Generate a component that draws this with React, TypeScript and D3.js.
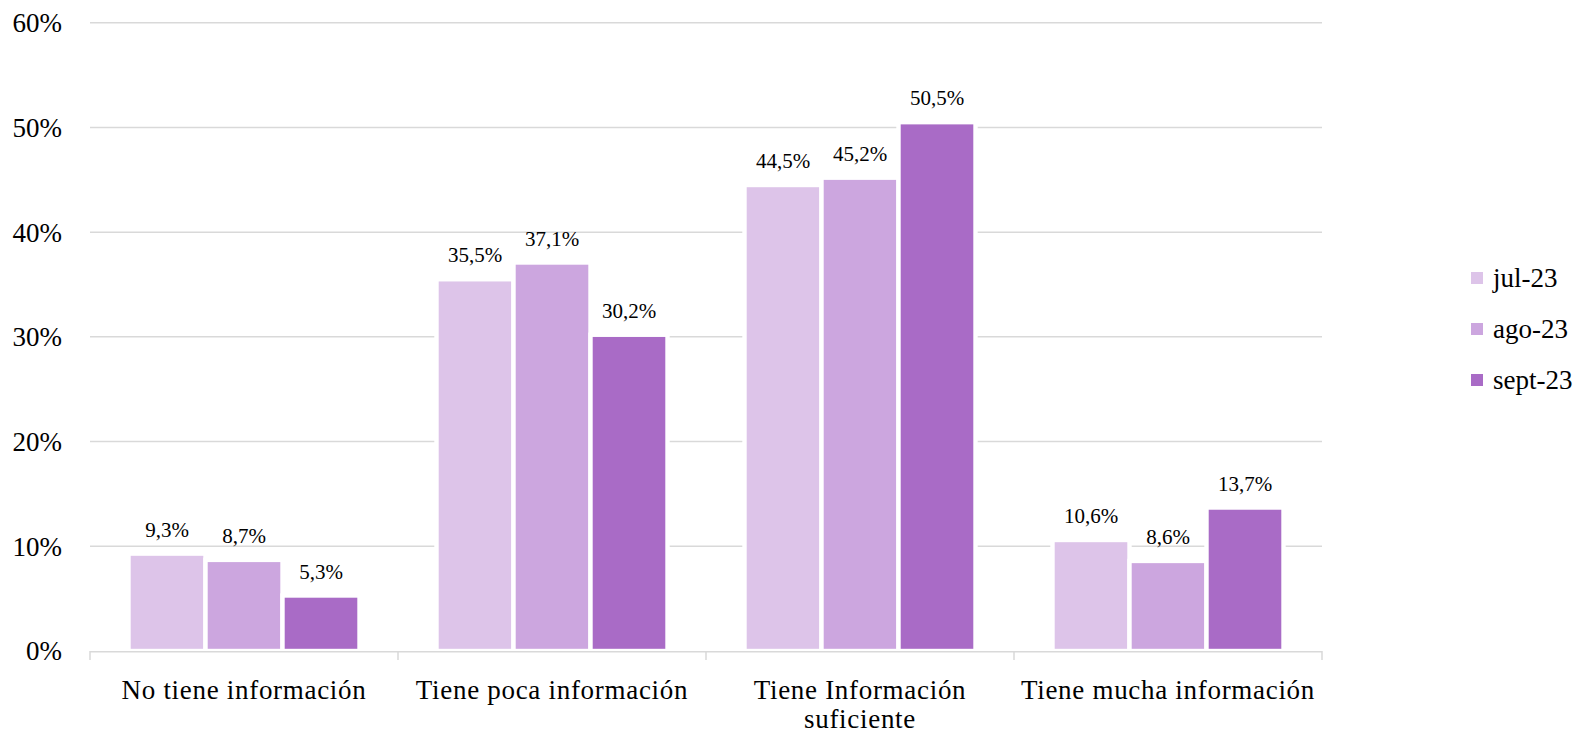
import React, { useLayoutEffect } from 'react';
import * as d3 from 'd3';

const categories = [
  'No tiene información',
  'Tiene poca información',
  'Tiene Información\nsuficiente',
  'Tiene mucha información',
];
const seriesNames = ['jul-23', 'ago-23', 'sept-23'];
const jul23 = [9.3, 35.5, 44.5, 10.6];
const ago23 = [8.7, 37.1, 45.2, 8.6];
const sept23 = [5.3, 30.2, 50.5, 13.7];
const seriesValues = [jul23, ago23, sept23];
const colors = ['#DDC4E9', '#CCA6DF', '#A96BC6'];
const yTicks = [0, 10, 20, 30, 40, 50, 60];

const W = 1579;
const H = 737;
const FONT = "'Liberation Serif', serif";

export default function App() {
  useLayoutEffect(() => {
    document.body.style.margin = '0';
  }, []);

  const margin = { top: 22.7, right: 257, bottom: 86, left: 90 };

  const x0 = d3.scaleBand<string>()
    .domain(categories)
    .range([margin.left, W - margin.right])
    .paddingInner(0);
  const groupW = x0.bandwidth() * 0.75;
  const x1 = d3.scaleBand<string>()
    .domain(seriesNames)
    .range([0, groupW]);
  const y = d3.scaleLinear()
    .domain([0, 60])
    .range([H - margin.bottom, margin.top]);

  const fmt = (v: number) => v.toFixed(1).replace('.', ',') + '%';
  const bounds = categories.map((c) => x0(c)!).concat([W - margin.right]);

  return (
    <svg width={W} height={H} style={{ display: 'block', background: '#fff', fontFamily: FONT }}>
      {/* grid */}
      {yTicks.filter((t) => t > 0).map((t) => (
        <line key={t} x1={margin.left} x2={W - margin.right} y1={y(t)} y2={y(t)} stroke="#D9D9D9" strokeWidth={1.5} />
      ))}
      {yTicks.map((t) => (
        <text key={'l' + t} x={62} y={y(t)} dy="0.35em" textAnchor="end" fontSize={27} fill="#000">
          {t + '%'}
        </text>
      ))}

      {/* bars */}
      {categories.map((c, ci) => (
        <g key={c} transform={`translate(${x0(c)! + (x0.bandwidth() - groupW) / 2},0)`}>
          {seriesNames.map((s, si) => {
            const v = seriesValues[si][ci];
            return (
              <g key={s}>
                <rect
                  x={x1(s)}
                  y={y(v)}
                  width={x1.bandwidth()}
                  height={y(0) - y(v)}
                  fill={colors[si]}
                  stroke="#fff"
                  strokeWidth={4.4}
                />
                <text x={x1(s)! + x1.bandwidth() / 2} y={y(v) - 17} textAnchor="middle" fontSize={21} fill="#000">
                  {fmt(v)}
                </text>
              </g>
            );
          })}
        </g>
      ))}

      {/* x axis */}
      <line x1={margin.left} x2={W - margin.right} y1={y(0) + 0.7} y2={y(0) + 0.7} stroke="#D9D9D9" strokeWidth={1.5} />
      {bounds.map((b, i) => (
        <line key={'t' + i} x1={b} x2={b} y1={y(0)} y2={y(0) + 9} stroke="#D9D9D9" strokeWidth={1.5} />
      ))}
      {categories.map((c) => (
        <text key={'c' + c} x={x0(c)! + x0.bandwidth() / 2} y={699} textAnchor="middle" fontSize={27} letterSpacing={0.7} fill="#000">
          {c.split('\n').map((line, li) => (
            <tspan key={li} x={x0(c)! + x0.bandwidth() / 2} dy={li === 0 ? 0 : 29}>{line}</tspan>
          ))}
        </text>
      ))}

      {/* legend */}
      {seriesNames.map((s, i) => (
        <g key={'lg' + s} transform={`translate(1471,${278 + i * 51})`}>
          <rect x={0} y={-6} width={12} height={12} fill={colors[i]} />
          <text x={22} y={0} dy="0.35em" fontSize={27} fill="#000">{s}</text>
        </g>
      ))}
    </svg>
  );
}
